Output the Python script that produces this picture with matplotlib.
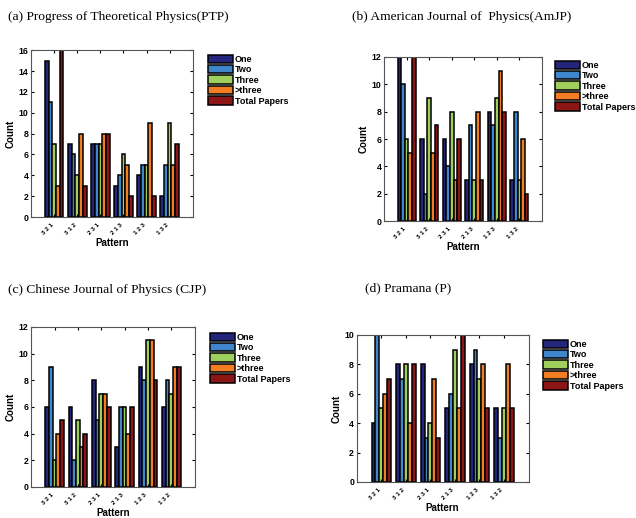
import numpy as np
import matplotlib
matplotlib.use("Agg")
import matplotlib.pyplot as plt

plt.rcParams["font.family"] = ["Liberation Sans", "DejaVu Sans"]
plt.rcParams["font.weight"] = "bold"

patterns = ["3 2 1", "3 1 2", "2 3 1", "2 1 3", "1 2 3", "1 3 2"]
series = ["One", "Two", "Three", ">three", "Total Papers"]
colors = ["#23267a", "#3f86cc", "#9fd05e", "#f27d22", "#8c1515"]

# counts per pattern: One, Two, Three, >three, Total Papers
ptp = [[15, 11, 7, 3, 16], [7, 6, 4, 8, 3], [7, 7, 7, 8, 8],
       [3, 4, 6, 5, 2], [4, 5, 5, 9, 2], [2, 5, 9, 5, 7]]
amjp = [[12, 10, 6, 5, 12], [6, 2, 9, 5, 7], [6, 4, 8, 3, 6],
        [3, 7, 3, 8, 3], [8, 7, 9, 11, 8], [3, 8, 3, 6, 2]]
cjp = [[6, 9, 2, 4, 5], [6, 2, 5, 3, 4], [8, 5, 7, 7, 6],
       [3, 6, 6, 4, 6], [9, 8, 11, 11, 8], [6, 8, 7, 9, 9]]
pramana = [[4, 10, 5, 6, 7], [8, 7, 8, 4, 8], [8, 3, 4, 7, 3],
           [5, 6, 9, 5, 10], [8, 9, 7, 8, 5], [5, 3, 5, 8, 5]]

panels = [
    ("(a) Progress of Theoretical Physics(PTP)", ptp, 16,
     [0.049, 0.581, 0.254, 0.322], (8, 17), (203, 50)),
    ("(b) American Journal of  Physics(AmJP)", amjp, 12,
     [0.604, 0.573, 0.248, 0.317], (352, 17), (550, 56)),
    ("(c) Chinese Journal of Physics (CJP)", cjp, 12,
     [0.049, 0.060, 0.257, 0.309], (8, 290), (205, 328)),
    ("(d) Pramana (P)", pramana, 10,
     [0.561, 0.0695, 0.270, 0.284], (365, 288), (538, 335)),
]

W, H = 636, 518
fig = plt.figure(figsize=(W / 100, H / 100), dpi=100)

for title, data, ymax, rect, tpos, lpos in panels:
    ax = fig.add_axes(rect)
    vals = np.array(data)
    x = np.arange(1, len(patterns) + 1)
    bw = 0.8 / len(series)
    for i, name in enumerate(series):
        ax.bar(x + (i - 2) * bw, vals[:, i], bw, color=colors[i],
               edgecolor="black", linewidth=1.1, label=name)
    ax.set_xlim(0, 7)
    ax.set_ylim(0, ymax)
    ax.set_yticks(range(0, ymax + 1, 2))
    ax.set_xticks(x)
    ax.set_xticklabels(patterns, rotation=45, ha="right", fontsize=4.5)
    ax.tick_params(axis="y", labelsize=6.3, direction="in", right=True,
                   length=2, pad=2)
    ax.tick_params(axis="x", direction="in", top=True, length=2)
    ax.set_ylabel("Count", fontsize=7, fontweight="bold", labelpad=2)
    ax.set_xlabel("Pattern", fontsize=7, fontweight="bold", labelpad=2)
    for s in ax.spines.values():
        s.set_color("#555555")
    fig.text(tpos[0] / W, 1 - tpos[1] / H, title, family="Liberation Serif",
             fontweight="normal", fontsize=9.7, va="center", ha="left")
    ax.legend(loc="upper left", bbox_to_anchor=(lpos[0] / W, 1 - lpos[1] / H),
              bbox_transform=fig.transFigure, frameon=False, fontsize=6.5,
              handlelength=2.8, handleheight=1.0, labelspacing=0.15,
              handletextpad=0.2, borderpad=0)

fig.savefig("out.png", dpi=100)
